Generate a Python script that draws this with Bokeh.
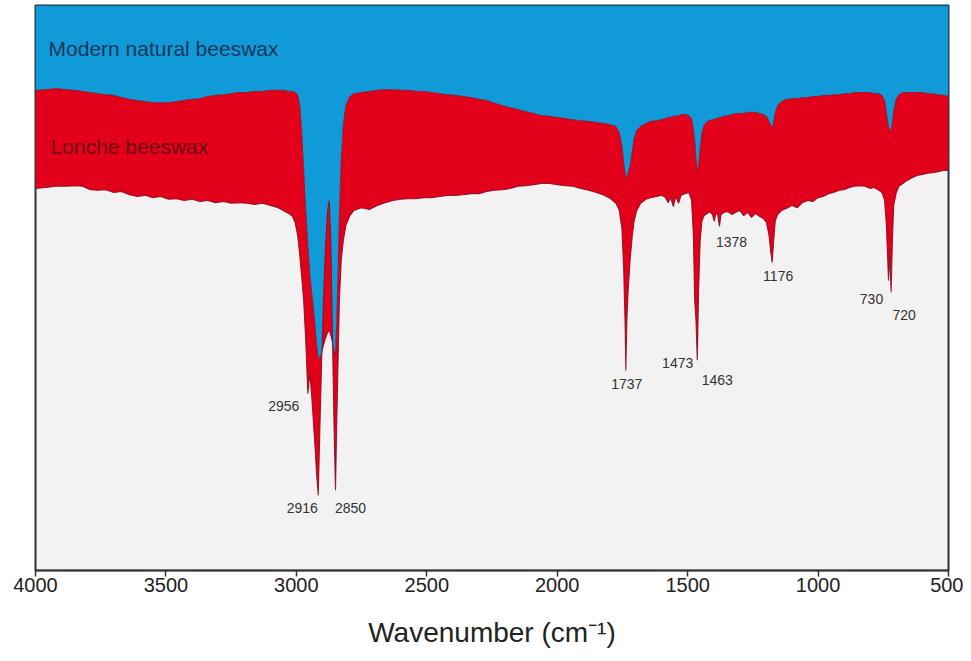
from bokeh.plotting import figure
from bokeh.models import Range1d, FixedTicker, Label, ColumnDataSource
from bokeh.core.properties import value
from bokeh.embed import file_html
from bokeh.resources import INLINE

# Wavenumber grid (cm-1) and transmittance (%) of both spectra
wavenumber = [4000, 3960, 3920, 3880, 3850, 3820, 3790, 3760, 3730, 3700, 3670, 3640, 3610, 3580,
              3550, 3520, 3490, 3460, 3430, 3400, 3370, 3340, 3310, 3280, 3250, 3220, 3190, 3160,
              3130, 3100, 3070, 3050, 3030, 3015, 3005, 2995, 2987, 2980, 2972, 2964, 2956, 2948,
              2940, 2930, 2922, 2916, 2910, 2903, 2896, 2888, 2880, 2874, 2868, 2862, 2856, 2850,
              2845, 2840, 2835, 2828, 2820, 2810, 2795, 2780, 2750, 2720, 2690, 2660, 2630, 2600,
              2570, 2540, 2510, 2480, 2450, 2420, 2390, 2360, 2330, 2300, 2270, 2240, 2210, 2180,
              2150, 2120, 2090, 2060, 2030, 2000, 1970, 1940, 1910, 1880, 1850, 1820, 1795, 1775,
              1762, 1752, 1745, 1740, 1737, 1733, 1728, 1720, 1712, 1705, 1695, 1680, 1660, 1640,
              1620, 1600, 1585, 1575, 1565, 1555, 1545, 1535, 1525, 1510, 1495, 1485, 1478, 1473,
              1468, 1463, 1458, 1452, 1445, 1437, 1425, 1415, 1405, 1398, 1392, 1385, 1378, 1372,
              1360, 1345, 1330, 1315, 1300, 1285, 1270, 1255, 1240, 1225, 1210, 1198, 1188, 1182,
              1176, 1170, 1164, 1155, 1140, 1120, 1100, 1080, 1060, 1040, 1020, 1000, 980, 960,
              940, 920, 900, 880, 860, 840, 820, 800, 785, 770, 755, 745, 738, 733,
              730, 725, 720, 715, 710, 700, 690, 675, 660, 640, 620, 600, 580, 560,
              540, 520, 500]

modern = [85.0, 85.1, 85.3, 85.1, 85.0, 84.8, 84.6, 84.4, 84.2, 84.1, 83.7, 83.4, 83.2, 83.0,
          82.8, 82.8, 82.8, 83.0, 83.2, 83.4, 83.5, 83.9, 84.1, 84.2, 84.4, 84.6, 84.6, 84.8,
          84.8, 85.0, 85.0, 85.0, 84.8, 84.8, 84.6, 84.2, 82.3, 77.9, 70.8, 63.7, 57.5, 52.2,
          48.7, 44.2, 39.8, 37.5, 37.7, 38.6, 39.8, 41.1, 42.1, 42.5, 41.6, 40.4, 38.9, 38.1,
          44.2, 53.1, 62.8, 72.6, 78.8, 82.3, 83.9, 84.4, 84.6, 84.8, 85.0, 85.1, 85.1, 85.0,
          85.0, 84.8, 84.8, 84.6, 84.4, 84.2, 84.1, 83.9, 83.7, 83.4, 83.2, 82.7, 82.3, 81.9,
          81.6, 81.2, 80.9, 80.5, 80.4, 80.2, 80.0, 79.8, 79.6, 79.5, 79.3, 79.1, 78.9, 78.6,
          77.5, 75.2, 72.2, 70.4, 69.4, 69.7, 70.4, 71.7, 74.3, 76.5, 77.9, 78.6, 79.1, 79.5,
          79.6, 79.8, 80.0, 80.2, 80.2, 80.4, 80.4, 80.5, 80.7, 80.7, 80.5, 80.0, 78.2, 76.1,
          72.9, 70.4, 71.7, 74.7, 77.5, 78.8, 79.5, 79.6, 79.8, 79.8, 80.0, 80.0, 80.2, 80.2,
          80.4, 80.5, 80.7, 80.9, 80.9, 80.9, 81.1, 81.1, 81.1, 80.9, 80.7, 80.4, 79.5, 78.8,
          78.4, 79.3, 81.1, 82.3, 83.0, 83.4, 83.5, 83.5, 83.7, 83.7, 83.9, 83.9, 84.1, 84.1,
          84.2, 84.2, 84.4, 84.4, 84.6, 84.6, 84.6, 84.6, 84.4, 84.4, 84.1, 83.2, 81.1, 79.3,
          78.6, 77.9, 77.9, 79.3, 81.4, 83.5, 84.2, 84.6, 84.6, 84.6, 84.6, 84.6, 84.4, 84.4,
          84.2, 84.1, 83.9]

lonche = [67.6, 67.8, 68.0, 68.0, 68.1, 68.0, 67.4, 67.3, 67.4, 66.9, 67.1, 66.5, 66.2, 66.4,
          66.0, 66.2, 65.7, 65.8, 65.5, 65.7, 65.3, 65.5, 65.1, 65.3, 65.0, 65.1, 65.0, 64.8,
          65.0, 64.6, 64.2, 63.7, 63.2, 62.7, 61.6, 59.3, 55.8, 52.2, 47.8, 40.7, 31.3, 35.0,
          30.1, 23.0, 16.8, 13.3, 24.8, 37.2, 47.8, 57.5, 63.7, 65.5, 58.4, 42.5, 26.5, 14.2,
          26.5, 37.2, 47.8, 54.9, 58.4, 61.1, 62.8, 63.7, 64.2, 63.9, 64.6, 65.1, 65.5, 65.7,
          65.8, 65.8, 66.0, 66.0, 66.2, 66.4, 66.4, 66.5, 66.7, 66.7, 67.1, 67.3, 67.4, 67.6,
          68.0, 68.1, 68.3, 68.5, 68.5, 68.3, 68.1, 68.0, 67.6, 67.3, 66.9, 66.4, 65.8, 65.0,
          63.7, 60.5, 53.1, 44.2, 35.4, 44.2, 49.6, 55.2, 59.3, 61.9, 63.7, 65.0, 65.7, 66.0,
          66.2, 66.4, 66.0, 65.1, 66.0, 64.4, 66.2, 65.0, 66.4, 66.7, 66.9, 65.5, 59.3, 47.8,
          44.2, 37.2, 49.6, 58.4, 61.9, 62.8, 63.2, 63.5, 63.0, 61.8, 63.2, 63.0, 60.9, 63.0,
          63.4, 63.5, 63.0, 63.4, 63.7, 62.8, 63.4, 62.5, 63.2, 62.7, 62.3, 61.6, 59.3, 56.6,
          54.5, 58.4, 61.9, 63.0, 63.7, 64.1, 64.6, 64.2, 65.1, 65.5, 65.3, 66.0, 66.2, 66.7,
          66.9, 67.3, 67.4, 67.8, 68.0, 68.1, 68.0, 67.6, 67.8, 67.4, 66.9, 65.5, 61.1, 54.9,
          51.3, 55.8, 49.2, 58.4, 64.6, 66.9, 68.0, 68.5, 69.0, 69.5, 69.9, 70.1, 70.3, 70.4,
          70.6, 70.8, 70.8]

peak_labels = ["2956", "2916", "2850", "1737", "1473", "1463", "1378", "1176", "730", "720"]
peak_wn = [2956, 2916, 2850, 1737, 1473, 1463, 1378, 1176, 730, 720]
x_ticks = [4000, 3500, 3000, 2500, 2000, 1500, 1000, 500]

lookup = dict(zip(wavenumber, lonche))
peak_src = ColumnDataSource(dict(
    x=peak_wn,
    y=[lookup[w] for w in peak_wn],
    text=peak_labels,
    dx=[-24, -16, 15, 1, -17, 20, 12, 6, -17, 13],
    dy=[12, 13, 18, 14, 63, 20, 16, 13, 18, 22],
))

FONT = "Liberation Sans"

p = figure(width=963, height=655, x_range=Range1d(4000, 500), y_range=Range1d(0, 100),
           output_backend="svg", toolbar_location=None, y_axis_location=None,
           min_border_left=35, min_border_right=15, min_border_top=5, min_border_bottom=85)
p.background_fill_color = "#f2f2f2"
p.border_fill_color = "white"
p.grid.visible = False
p.outline_line_color = "#27323e"
p.outline_line_width = 2

top = [100] * len(wavenumber)
p.varea(x=wavenumber, y1=modern, y2=top, fill_color="#109ad8")
p.varea(x=wavenumber, y1=modern, y2=lonche, fill_color="#e2001a")
p.line(wavenumber, modern, line_color="#8c0d22", line_width=1, line_alpha=0.8)
p.line(wavenumber, lonche, line_color="#8c0d22", line_width=1.1, line_alpha=0.9)

p.text(x="x", y="y", text="text", x_offset="dx", y_offset="dy", source=peak_src,
       text_align="center", text_baseline="middle", text_font=value(FONT),
       text_font_size=value("14px"), text_color="#333333")

p.add_layout(Label(x=3950, y=92.4, text="Modern natural beeswax", text_font=FONT,
                   text_font_size="21px", text_color="#16375a", text_baseline="middle"))
p.add_layout(Label(x=3942, y=75.0, text="Lonche beeswax", text_font=FONT,
                   text_font_size="21px", text_color="#6e0a14", text_baseline="middle"))

ax = p.xaxis[0]
ax.ticker = FixedTicker(ticks=x_ticks)
ax.major_label_text_font = FONT
ax.major_label_text_font_size = "20px"
ax.major_label_text_color = "#222222"
ax.major_label_standoff = 1
ax.major_tick_out = 6
ax.major_tick_in = 0
ax.minor_tick_out = 0
ax.minor_tick_in = 0
ax.axis_line_width = 1.5
ax.axis_line_color = "#333333"
ax.major_tick_line_color = "#333333"
ax.major_tick_line_width = 1.5
ax.axis_label = "Wavenumber (cm\u207b\u00b9)"
ax.axis_label_text_font = FONT
ax.axis_label_text_font_size = "28px"
ax.axis_label_text_font_style = "normal"
ax.axis_label_text_color = "#222222"
ax.axis_label_standoff = 22

open("out.html", "w").write(file_html(p, INLINE))
